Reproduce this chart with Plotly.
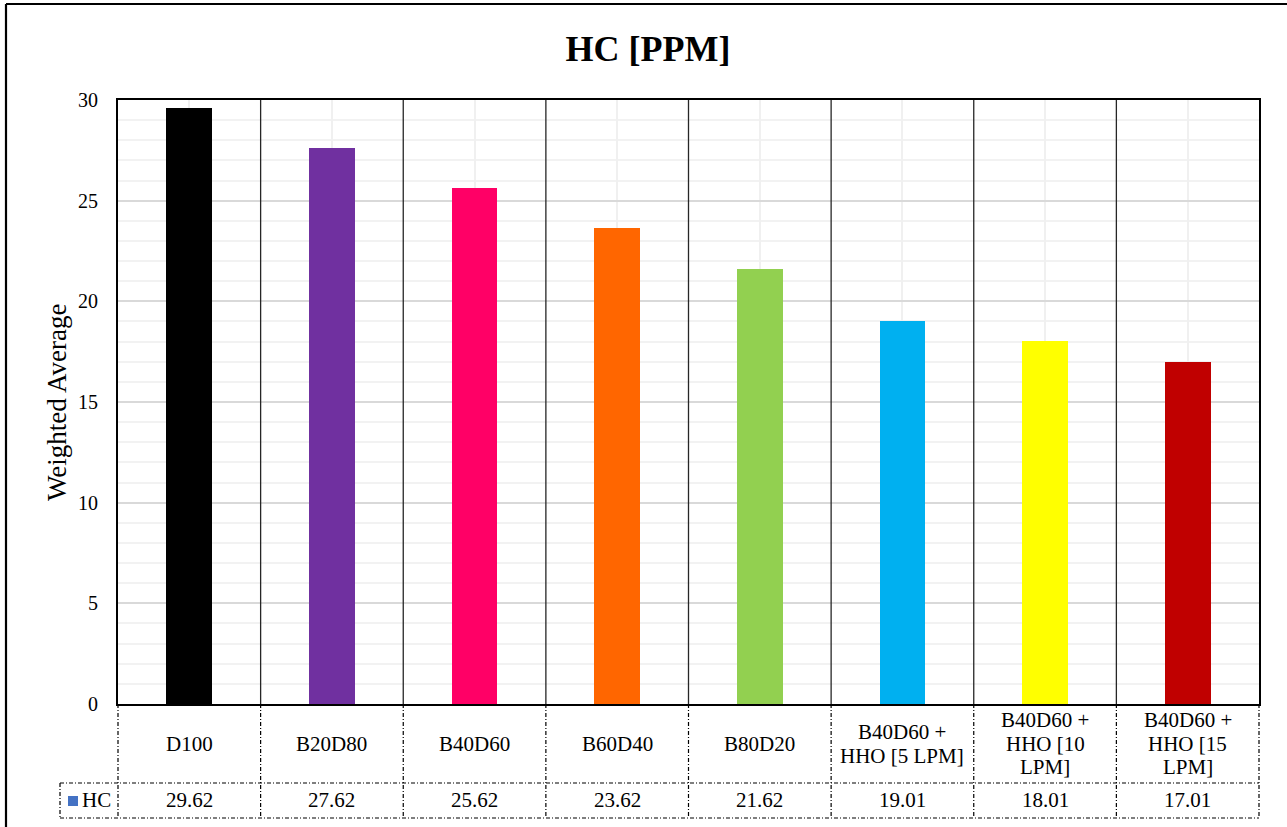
import plotly.graph_objects as go

# Chart data
categories = [
    "D100",
    "B20D80",
    "B40D60",
    "B60D40",
    "B80D20",
    "B40D60 +<br>HHO [5 LPM]",
    "B40D60 +<br>HHO [10<br>LPM]",
    "B40D60 +<br>HHO [15<br>LPM]",
]
hc_values = [29.62, 27.62, 25.62, 23.62, 21.62, 19.01, 18.01, 17.01]
bar_colors = ["#000000", "#7030A0", "#FF0066", "#FF6600",
              "#92D050", "#00B0F0", "#FFFF00", "#C00000"]
series_name = "HC"
y_ticks = [0, 5, 10, 15, 20, 25, 30]

W, H = 1287, 827
L, R, T, B = 118, 28, 100, 123
PW, PH = W - L - R, H - T - B

FONT = "Liberation Serif"


def px_x(px):
    return (px - L) / PW


def px_y(py):
    return (H - B - py) / PH


fig = go.Figure(
    go.Bar(
        x=categories,
        y=hc_values,
        marker=dict(color=bar_colors, line=dict(width=0)),
        width=0.32,
        name=series_name,
        showlegend=False,
    )
)

n = len(categories)
shapes = []
dash = "4px,2px,1px,2px"
row1_bottom = px_y(783)
row2_bottom = px_y(818)

# Category separators inside the plot area
for i in range(1, n):
    xp = i / n
    shapes.append(dict(type="line", xref="paper", yref="paper", x0=xp, x1=xp,
                       y0=0, y1=1, line=dict(color="#262626", width=1.3)))

# Data table grid under the plot
for i in range(n + 1):
    xp = i / n
    shapes.append(dict(type="line", xref="paper", yref="paper", x0=xp, x1=xp,
                       y0=0, y1=row2_bottom, line=dict(color="black", width=1.2, dash=dash)))
for yy in (row1_bottom, row2_bottom):
    shapes.append(dict(type="line", xref="paper", yref="paper", x0=px_x(60), x1=1,
                       y0=yy, y1=yy, line=dict(color="black", width=1.2, dash=dash)))
shapes.append(dict(type="line", xref="paper", yref="paper", x0=px_x(60), x1=px_x(60),
                   y0=row1_bottom, y1=row2_bottom, line=dict(color="black", width=1.2, dash=dash)))

# Legend key square in the table
shapes.append(dict(type="rect", xref="paper", yref="paper",
                   x0=px_x(68), x1=px_x(78), y0=px_y(806), y1=px_y(796),
                   fillcolor="#4472C4", line=dict(width=0)))

# Chart-area border (left and top edges)
shapes.append(dict(type="line", xref="paper", yref="paper", x0=px_x(6), x1=px_x(6),
                   y0=px_y(4), y1=px_y(830), line=dict(color="black", width=2.2)))
shapes.append(dict(type="line", xref="paper", yref="paper", x0=px_x(6), x1=px_x(1290),
                   y0=px_y(4), y1=px_y(4), line=dict(color="black", width=2.2)))

annotations = []
LINE_STEP = 24
ROW1_MID = 743.5
for cat, v in zip(categories, hc_values):
    lines = cat.split("<br>")
    first = ROW1_MID - LINE_STEP * (len(lines) - 1) / 2
    for k, line in enumerate(lines):
        annotations.append(dict(x=cat, xref="x", yref="paper",
                                y=px_y(first + k * LINE_STEP),
                                text=line, showarrow=False, yanchor="middle",
                                font=dict(family=FONT, size=21, color="black")))
    annotations.append(dict(x=cat, xref="x", yref="paper", y=px_y(800),
                            text=f"{v:.2f}", showarrow=False, yanchor="middle",
                            font=dict(family=FONT, size=21, color="black")))

annotations.append(dict(x=px_x(80), xref="paper", yref="paper", y=px_y(800),
                        text=series_name, showarrow=False, xanchor="left", yanchor="middle",
                        font=dict(family=FONT, size=21, color="black")))

annotations.append(dict(x=px_x(57), xref="paper", yref="paper", y=px_y(402),
                        text="Weighted Average", showarrow=False, textangle=-90,
                        xanchor="center", yanchor="middle",
                        font=dict(family=FONT, size=27, color="black")))

fig.update_layout(
    width=W,
    height=H,
    margin=dict(l=L, r=R, t=T, b=B, pad=0),
    paper_bgcolor="white",
    plot_bgcolor="white",
    title=dict(text="<b>HC [PPM]</b>", x=648 / W, xref="container", xanchor="center",
               y=1 - 48 / H, yref="container", yanchor="middle",
               font=dict(family=FONT, size=36, color="black")),
    font=dict(family=FONT, size=20, color="black"),
    shapes=shapes,
    annotations=annotations,
    bargap=0,
    showlegend=False,
)

fig.update_xaxes(
    type="category",
    range=[-0.5, n - 0.5],
    showticklabels=False,
    ticks="",
    showgrid=True,
    gridcolor="#f0f0f0",
    gridwidth=1.5,
    showline=True,
    linecolor="black",
    linewidth=2.2,
    mirror=True,
    zeroline=False,
)

fig.update_yaxes(
    range=[0, 30],
    tickvals=y_ticks,
    ticks="",
    ticklabelstandoff=14,
    tickfont=dict(family=FONT, size=20, color="black"),
    showgrid=True,
    gridcolor="#d9d9d9",
    gridwidth=1.5,
    minor=dict(dtick=1, showgrid=True, gridcolor="#f2f2f2", gridwidth=1.5),
    showline=True,
    linecolor="black",
    linewidth=2.2,
    mirror=True,
    zeroline=False,
)

fig.write_html("out.html")
